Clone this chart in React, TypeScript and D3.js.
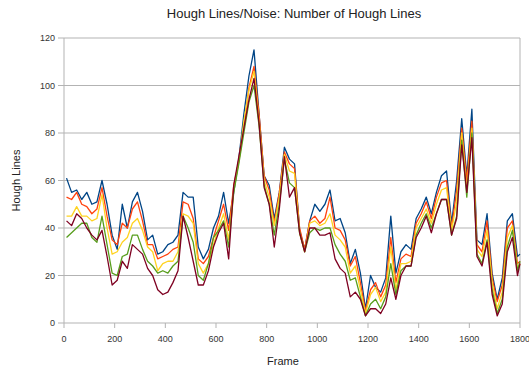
import * as d3 from "d3";

const frames = [
  10, 30, 50, 70, 90, 110, 130, 150, 170, 190,
  210, 230, 250, 270, 290, 310, 330, 350, 370, 390,
  410, 430, 450, 470, 490, 510, 530, 550, 570, 590,
  610, 630, 650, 670, 690, 710, 730, 750, 770, 790,
  810, 830, 850, 870, 890, 910, 930, 950, 970, 990,
  1010, 1030, 1050, 1070, 1090, 1110, 1130, 1150, 1170, 1190,
  1210, 1230, 1250, 1270, 1290, 1310, 1330, 1350, 1370, 1390,
  1410, 1430, 1450, 1470, 1490, 1510, 1530, 1550, 1570, 1590,
  1610, 1630, 1650, 1670, 1690, 1710, 1730, 1750, 1770, 1790,
  1800,
];

const blue = [
  61, 55, 56, 52, 55, 50, 51, 60, 50, 37,
  31, 50, 40, 51, 55, 47, 35, 37, 29, 30,
  33, 34, 37, 55, 53, 53, 32, 27, 31, 40,
  45, 55, 42, 55, 69, 88, 104, 115, 88, 62,
  58, 44, 55, 74, 69, 67, 39, 31, 43, 50,
  47, 50, 56, 43, 44, 38, 25, 31, 21, 6,
  20, 15, 13, 19, 45, 21, 30, 33, 31, 44,
  48, 53, 46, 55, 62, 64, 42, 60, 86, 62,
  90, 35, 33, 46, 21, 10, 19, 43, 46, 28,
  29,
];

const orange = [
  53, 52, 55, 50, 49, 46, 48, 57, 45, 35,
  33, 42, 40, 48, 51, 43, 33, 33, 27, 28,
  29, 31, 32, 51, 50, 44, 27, 25, 28, 36,
  43, 50, 39, 58, 68, 82, 99, 108, 88, 62,
  56, 42, 55, 72, 67, 65, 40, 31, 43, 45,
  42, 44, 53, 40, 39, 35, 24, 28, 17, 5,
  14, 17, 11, 16, 36, 17, 27, 29, 28, 42,
  46, 51, 44, 53, 59, 60, 40, 56, 82, 60,
  85, 33, 30, 43, 19, 9, 16, 40, 43, 25,
  26,
];

const yellow = [
  45, 45, 49, 45, 45, 43, 44, 54, 40, 29,
  30, 34, 36, 42, 44, 39, 32, 30, 22, 25,
  26, 26, 30, 46, 45, 42, 25, 21, 25, 33,
  40, 46, 35, 56, 68, 85, 98, 106, 85, 60,
  53, 41, 53, 71, 64, 63, 38, 30, 42, 43,
  41, 42, 46, 37, 35, 32, 21, 24, 14, 4,
  12, 15, 9, 13, 32, 14, 25, 25, 26, 40,
  44, 48, 42, 50, 56, 57, 39, 51, 80, 56,
  82, 31, 28, 39, 17, 6, 13, 36, 41, 23,
  25,
];

const green = [
  36, 38, 40, 42, 42, 36, 34, 45, 33, 21,
  20, 28, 29, 37, 37, 31, 26, 24, 21, 22,
  21, 24, 26, 45, 40, 34, 20, 18, 25, 36,
  39, 43, 32, 55, 67, 80, 93, 100, 83, 58,
  50, 37, 50, 69, 59, 57, 38, 30, 38, 40,
  39, 40, 40, 33, 29, 26, 18, 19, 11, 3,
  8, 10, 6, 11, 25, 12, 22, 24, 24, 37,
  42, 46, 40, 46, 52, 52, 37, 45, 77, 53,
  80, 29, 25, 35, 14, 4, 10, 32, 39, 22,
  26,
];

const maroon = [
  43, 41, 46, 44, 40, 37, 35, 39, 28, 16,
  18, 26, 23, 33, 31, 29, 23, 20, 14, 12,
  13, 17, 22, 45, 36, 26, 16, 16, 22, 32,
  38, 42, 27, 58, 70, 82, 94, 103, 84, 57,
  50, 32, 48, 70, 53, 57, 38, 30, 40, 40,
  37, 37, 38, 27, 23, 21, 11, 13, 10, 3,
  6, 6, 4, 8, 19, 10, 20, 24, 24, 36,
  40, 45, 38, 46, 52, 52, 37, 44, 75, 55,
  78, 28, 24, 34, 12, 3, 8, 30, 36, 20,
  25,
];

const seriesList = [
  { name: "blue", values: blue, color: "#004586" },
  { name: "orange", values: orange, color: "#ff420e" },
  { name: "yellow", values: yellow, color: "#ffd320" },
  { name: "green", values: green, color: "#579d1c" },
  { name: "maroon", values: maroon, color: "#7e0021" },
];

const xTicks = [0, 200, 400, 600, 800, 1000, 1200, 1400, 1600, 1800];
const yTicks = [0, 20, 40, 60, 80, 100, 120];

const W = 529;
const H = 371;
const margin = { top: 38, right: 9, bottom: 48, left: 64 };
const font = "'Liberation Sans', Arial, sans-serif";
const gridColor = "#b3b3b3";

export default function App() {
  const x = d3.scaleLinear().domain([0, 1800]).range([margin.left, W - margin.right]);
  const y = d3.scaleLinear().domain([0, 120]).range([H - margin.bottom, margin.top]);

  const line = d3.line<number>()
    .x((_, i) => x(frames[i]))
    .y((d) => y(d));

  const x0 = x(0);
  const x1 = x(1800);
  const yBase = y(0);
  const yTop = y(120);

  return (
    <svg
      width={W}
      height={H}
      style={{ position: "absolute", left: 0, top: 0, background: "#fff" }}
      fontFamily={font}
    >
      <text x={294} y={18} textAnchor="middle" fontSize={13} fill="#222">
        Hough Lines/Noise: Number of Hough Lines
      </text>

      {/* grid */}
      {yTicks.map((t) => (
        <line key={`g${t}`} x1={x0} x2={x1} y1={y(t)} y2={y(t)} stroke={gridColor} strokeWidth={1} />
      ))}
      <line x1={x1} x2={x1} y1={yTop} y2={yBase} stroke={gridColor} strokeWidth={1} />
      <line x1={x0} x2={x0} y1={yTop} y2={yBase} stroke={gridColor} strokeWidth={1} />

      {/* y axis ticks */}
      {yTicks.map((t) => (
        <g key={`y${t}`}>
          <line x1={x0 - 6} x2={x0} y1={y(t)} y2={y(t)} stroke={gridColor} />
          <text x={x0 - 9} y={y(t)} dy="0.35em" textAnchor="end" fontSize={9} fill="#333">
            {t}
          </text>
        </g>
      ))}

      {/* x axis ticks */}
      {xTicks.map((t) => (
        <g key={`x${t}`}>
          <line x1={x(t)} x2={x(t)} y1={yBase} y2={yBase + 5} stroke={gridColor} />
          <text x={x(t)} y={yBase + 19} textAnchor="middle" fontSize={9} fill="#333">
            {t}
          </text>
        </g>
      ))}

      {/* series */}
      {seriesList.map((s) => (
        <path
          key={s.name}
          d={line(s.values) ?? ""}
          fill="none"
          stroke={s.color}
          strokeWidth={1.3}
          strokeLinejoin="round"
        />
      ))}

      <text x={283} y={365} textAnchor="middle" fontSize={11} fill="#222">
        Frame
      </text>
      <text
        transform={`translate(20,${(yTop + yBase) / 2}) rotate(-90)`}
        textAnchor="middle"
        fontSize={11}
        fill="#222"
      >
        Hough Lines
      </text>
    </svg>
  );
}
